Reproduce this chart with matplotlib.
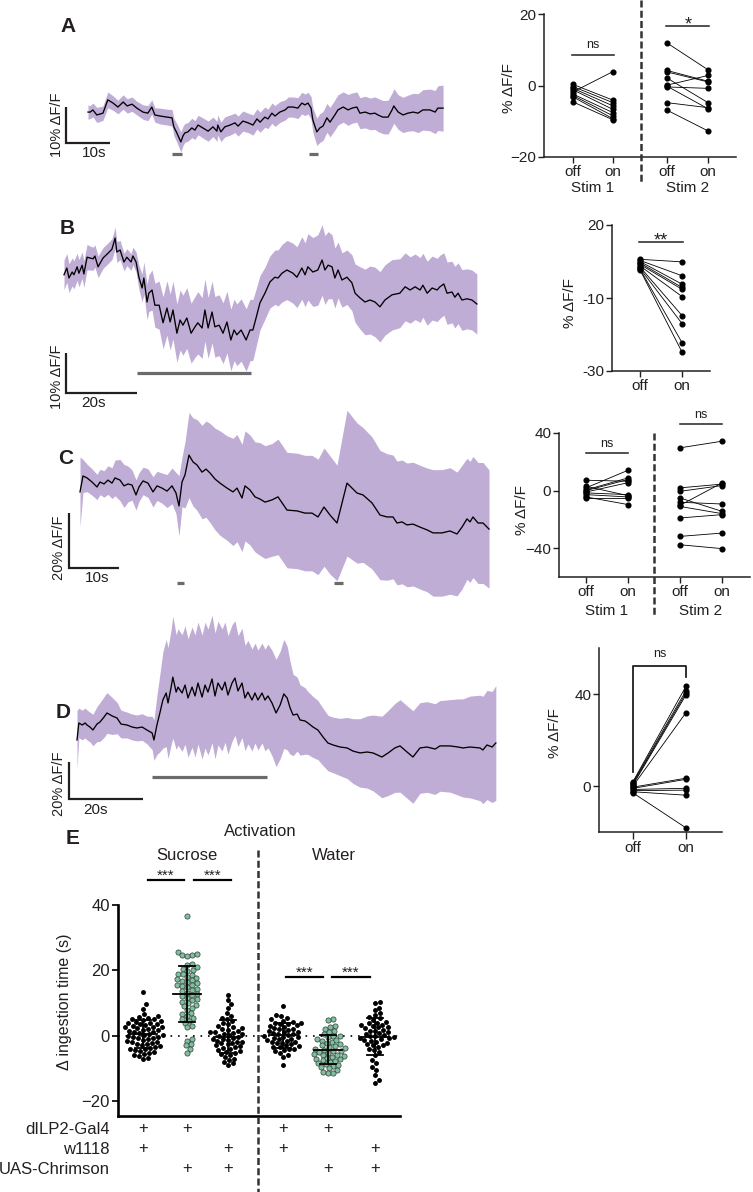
import numpy as np
import matplotlib.pyplot as plt
from matplotlib.lines import Line2D

plt.rcParams['font.family'] = ['Liberation Sans', 'DejaVu Sans']

W, H = 753, 1192
INK = '#231f20'
BAND = '#bfadd6'
STIM = '#6b6b6b'
GREEN = '#80c0a0'

# ---------------- calcium traces: time (s), mean and SEM (% dF/F) ----------------
a_t = [0.0, 0.5, 1.1, 2.0, 3.4, 4.5, 5.7, 6.8, 8.0, 8.9,
       10.0, 11.1, 12.5, 13.6, 14.5, 15.2, 16.4, 18.0, 19.1, 19.5,
       20.2, 21.1, 21.6, 22.0, 22.7, 23.6, 24.3, 25.0, 26.1, 27.3,
       28.4, 29.3, 29.5, 30.2, 31.1, 32.3, 33.4, 34.1, 35.2, 36.4,
       37.5, 38.4, 39.1, 40.2, 40.9, 41.8, 42.5, 43.6, 44.8, 45.5,
       46.6, 47.7, 48.6, 49.3, 50.0, 50.7, 51.1, 52.0, 52.7, 53.4,
       54.3, 55.0, 56.1, 56.8, 58.0, 59.1, 60.0, 61.1, 61.8, 63.0,
       64.1, 65.2, 65.9, 67.0, 68.2, 69.1, 69.5, 70.5, 71.6, 72.7,
       73.9, 75.0, 76.1, 77.7, 78.9, 79.5, 80.7]
a_mean = [2.2, 2.2, 2.8, 1.4, 1.9, 5.6, 4.7, 3.6, 5.0, 3.9,
          4.4, 3.3, 2.2, 1.9, 3.6, 1.4, 1.1, 0.8, 0.6, -1.9,
          -3.6, -6.1, -4.4, -3.6, -3.3, -2.2, -2.8, -1.4, -2.2, -3.1,
          -1.9, -3.1, -1.4, -3.3, -1.9, -1.4, -0.8, -1.7, -0.3, -0.8,
          -1.4, 0.3, -0.6, 0.8, 0.3, 1.9, 1.1, 2.2, 2.8, 3.6,
          3.6, 3.3, 4.7, 4.2, 4.7, 3.3, 0.0, -3.3, -2.2, -1.7,
          0.6, -0.6, 1.4, 2.8, 3.6, 2.8, 3.3, 3.6, 1.9, 2.2,
          1.7, 1.9, 1.4, 0.8, 0.8, 2.8, 3.9, 2.2, 1.4, 1.9,
          2.2, 1.9, 2.8, 2.8, 2.2, 3.3, 3.3]
a_sem = [2.0, 1.8, 1.9, 2.1, 2.0, 2.2, 2.0, 1.9, 2.0, 2.0,
         2.0, 1.9, 2.0, 2.1, 2.0, 2.0, 2.2, 2.2, 2.3, 2.4,
         2.6, 2.8, 2.7, 2.6, 2.6, 2.7, 2.6, 2.7, 2.8, 2.8,
         2.7, 2.8, 2.8, 2.7, 2.8, 2.8, 2.7, 2.8, 2.8, 2.7,
         2.8, 2.8, 2.8, 2.8, 2.7, 2.8, 2.9, 2.9, 2.8, 2.8,
         2.8, 2.9, 3.0, 3.0, 3.0, 3.2, 3.4, 3.8, 4.0, 4.0,
         4.0, 4.1, 4.2, 4.2, 4.2, 4.3, 4.2, 4.2, 4.3, 4.4,
         4.4, 4.5, 4.6, 4.6, 4.7, 4.7, 4.8, 4.8, 4.9, 5.0,
         5.2, 5.4, 5.6, 5.8, 6.0, 6.2, 6.4]
a_stims = [(19.1, 21.4), (50.2, 52.3)]

b_t = [0.0, 0.8, 1.4, 2.3, 2.8, 3.7, 4.2, 5.1, 5.6, 6.5,
       7.3, 8.2, 8.7, 9.6, 11.0, 12.4, 13.5, 14.4, 14.9, 15.8,
       16.9, 17.7, 18.9, 19.4, 20.3, 21.1, 22.0, 22.5, 23.4, 23.9,
       24.8, 25.6, 26.8, 27.9, 29.0, 29.9, 30.7, 31.8, 32.7, 33.5,
       34.6, 35.8, 36.9, 37.7, 38.9, 39.7, 40.6, 41.7, 42.5, 43.7,
       44.8, 45.9, 47.0, 47.9, 48.7, 49.9, 51.3, 52.4, 53.2, 54.1,
       55.2, 56.6, 58.0, 59.4, 60.3, 61.4, 62.8, 64.5, 65.6, 67.0,
       67.9, 68.7, 70.1, 71.5, 72.7, 73.5, 74.4, 75.5, 76.3, 77.2,
       78.3, 79.7, 81.1, 82.0, 83.4, 84.8, 86.2, 87.6, 89.0, 90.4,
       92.4, 94.6, 96.1, 97.5, 98.9, 100.3, 101.1, 102.3, 103.7, 105.1,
       105.9, 107.0, 107.9, 109.3, 110.1, 111.0, 112.1, 113.5, 114.9, 116.3]
b_mean = [-1.2, 0.5, -2.0, -0.5, -1.2, 0.8, -0.8, 1.2, -1.0, 3.2,
          3.0, 2.8, 3.5, 0.8, 3.0, 4.2, 5.2, 8.0, 4.5, 5.0,
          2.0, 3.2, 2.0, 3.5, 2.0, -1.8, -4.5, -2.0, -8.0, -5.8,
          -5.0, -8.8, -8.8, -13.2, -9.5, -13.0, -10.0, -15.8, -12.5, -13.8,
          -12.0, -15.8, -14.2, -13.2, -14.5, -10.0, -14.5, -10.5, -14.2, -13.8,
          -15.8, -13.0, -17.5, -15.0, -16.2, -15.0, -17.5, -15.0, -15.0, -12.0,
          -8.2, -5.8, -3.0, -1.8, -2.0, -0.8, 0.0, -0.8, -1.8, 0.5,
          -1.2, 0.8, -0.5, 0.0, 2.5, 0.0, 1.2, 0.8, -2.0, 0.0,
          -2.5, -1.8, -3.2, -5.8, -7.0, -8.0, -7.5, -8.0, -9.2, -7.5,
          -6.2, -5.8, -4.2, -5.0, -4.2, -5.0, -3.8, -5.8, -4.5, -5.0,
          -4.2, -3.5, -5.8, -5.5, -6.8, -5.8, -7.5, -7.2, -7.5, -8.5]
b_sem = [3.7, 3.6, 3.6, 3.5, 3.5, 3.4, 3.4, 3.3, 3.3, 3.2,
         3.0, 2.9, 2.8, 2.7, 2.6, 2.6, 2.6, 2.7, 2.6, 2.4,
         2.2, 2.1, 2.1, 2.2, 2.5, 3.0, 3.5, 4.0, 4.4, 4.6,
         5.0, 5.5, 6.0, 6.5, 6.8, 7.0, 7.2, 7.3, 7.5, 7.5,
         7.6, 7.5, 7.6, 7.8, 7.6, 7.8, 7.6, 7.7, 7.6, 7.6,
         7.6, 7.7, 7.7, 7.7, 7.7, 7.8, 7.8, 7.7, 7.6, 7.2,
         6.8, 6.5, 6.5, 6.8, 7.0, 7.2, 7.4, 7.5, 7.6, 7.8,
         8.0, 8.3, 8.6, 8.8, 8.8, 8.6, 8.4, 8.0, 7.5, 7.0,
         6.8, 6.8, 7.0, 7.3, 7.8, 8.2, 8.5, 8.7, 8.8, 8.8,
         8.8, 8.6, 8.5, 8.3, 8.2, 8.1, 8.0, 8.0, 8.0, 7.9,
         7.9, 7.8, 7.8, 7.7, 7.7, 7.6, 7.6, 7.5, 7.5, 7.5]
b_stims = [(20.6, 52.7)]

c_t = [0.0, 0.6, 1.4, 2.4, 3.4, 4.0, 4.8, 5.6, 6.4, 7.0,
       8.0, 8.8, 9.6, 10.4, 11.2, 11.8, 12.6, 13.6, 14.6, 15.4,
       16.4, 17.4, 18.4, 19.2, 19.8, 20.4, 21.0, 21.8, 22.6, 23.4,
       24.4, 25.2, 26.0, 27.0, 28.0, 29.4, 30.6, 31.4, 32.4, 33.0,
       34.0, 35.0, 36.0, 37.0, 38.4, 39.6, 41.4, 43.4, 45.0, 46.4,
       47.6, 48.8, 50.0, 51.4, 53.4, 55.4, 56.6, 58.4, 60.0, 61.4,
       62.6, 63.4, 64.4, 65.4, 66.6, 68.0, 69.4, 70.6, 72.4, 74.0,
       75.4, 76.4, 77.4, 78.0, 78.6, 79.6, 80.6, 81.8]
c_mean = [-0.7, 5.1, 4.4, 2.9, 1.1, 2.9, 2.2, 3.6, 2.5, 4.4,
          3.6, 1.5, 2.2, 1.8, -1.8, 1.1, 3.3, 2.5, -0.7, 1.5,
          0.7, -0.4, 1.5, -1.1, -5.8, 2.9, 5.5, 12.7, 10.2, 9.1,
          6.5, 7.6, 6.2, 4.0, 2.5, 0.7, -0.7, 0.7, -2.9, 1.5,
          0.0, -2.5, -3.3, -4.4, -3.6, -2.5, -7.3, -7.6, -8.4, -8.4,
          -9.8, -6.2, -9.1, -12.0, 2.5, -1.1, -1.8, -4.7, -9.1, -9.8,
          -9.8, -12.0, -11.6, -12.7, -12.4, -13.5, -14.5, -15.6, -15.6, -14.9,
          -16.0, -13.5, -10.5, -11.6, -9.8, -12.0, -12.0, -14.2]
c_sem = [12.7, 6.0, 5.0, 4.8, 4.6, 4.6, 4.8, 5.2, 5.6, 6.5,
         7.5, 7.8, 6.5, 5.5, 5.5, 5.2, 5.0, 5.2, 5.5, 5.3,
         5.5, 6.0, 6.5, 7.5, 11.0, 9.0, 12.0, 15.5, 16.0, 16.5,
         17.0, 17.5, 18.0, 18.5, 19.0, 19.0, 19.5, 19.5, 19.5, 20.0,
         20.0, 20.0, 20.5, 20.5, 20.5, 21.0, 21.0, 21.0, 21.0, 21.0,
         21.0, 21.5, 21.5, 21.0, 26.5, 25.5, 24.5, 24.0, 23.5, 23.0,
         22.5, 22.5, 22.5, 22.5, 22.5, 22.5, 22.5, 23.0, 23.0, 23.0,
         22.5, 22.5, 22.0, 22.0, 22.0, 22.0, 22.0, 21.5]
c_stims = [(19.4, 20.8), (50.8, 52.6)]

d_t = [0.0, 0.5, 1.4, 2.2, 2.7, 3.5, 4.3, 5.4, 6.2, 7.3,
       8.1, 9.5, 10.8, 11.9, 13.5, 14.9, 16.2, 17.6, 18.9, 20.3,
       20.8, 21.6, 22.4, 23.2, 24.1, 24.6, 25.4, 25.9, 26.8, 27.3,
       28.4, 29.2, 30.0, 31.1, 31.9, 32.7, 33.8, 34.6, 35.4, 36.5,
       37.3, 38.1, 39.2, 40.0, 40.8, 41.9, 42.7, 43.5, 44.6, 45.4,
       46.2, 47.3, 48.1, 48.9, 50.0, 50.8, 51.6, 52.7, 53.8, 54.9,
       55.9, 56.8, 57.6, 58.4, 59.5, 60.3, 61.6, 62.4, 63.8, 65.1,
       66.5, 67.8, 69.2, 71.1, 73.0, 74.6, 76.5, 78.4, 80.0, 82.4,
       84.1, 85.9, 87.3, 89.2, 90.8, 92.7, 94.6, 96.8, 98.1, 100.8,
       103.0, 104.3, 106.2, 108.9, 109.7, 110.8, 112.2, 113.2]
d_mean = [-5.4, 3.8, 2.7, 3.8, 2.7, 1.6, 0.0, 3.2, 4.3, 7.0,
          9.2, 7.6, 6.5, 3.2, 2.7, 1.6, 1.1, 1.6, 0.0, -1.6,
          -5.4, 2.7, 9.2, 16.2, 20.0, 14.6, 22.7, 28.6, 20.5, 23.2,
          20.0, 24.3, 17.3, 23.2, 18.4, 25.4, 17.8, 24.3, 20.5, 27.6,
          18.4, 25.4, 21.6, 25.9, 18.9, 25.4, 28.1, 21.1, 25.4, 17.3,
          20.5, 16.2, 20.0, 16.2, 20.0, 16.2, 18.4, 14.6, 9.2, 13.5,
          19.5, 17.3, 11.9, 8.1, 8.6, 5.4, 4.9, 3.8, 1.6, 0.0,
          -3.8, -7.0, -8.1, -9.2, -9.7, -11.4, -12.4, -11.9, -12.4, -14.6,
          -12.4, -9.7, -8.6, -11.9, -14.6, -9.7, -9.2, -10.3, -8.6, -8.6,
          -9.2, -9.7, -9.2, -9.7, -10.8, -8.1, -9.2, -7.0]
d_sem = [16.0, 8.0, 8.0, 8.1, 8.1, 8.0, 8.5, 9.5, 10.5, 11.0,
         11.0, 10.0, 8.5, 7.5, 7.0, 7.0, 7.0, 7.2, 7.5, 9.0,
         11.0, 16.0, 21.0, 26.0, 29.0, 30.0, 31.0, 33.0, 31.0, 31.5,
         31.5, 32.0, 32.0, 32.5, 33.0, 33.0, 33.5, 34.0, 34.0, 34.5,
         34.0, 33.5, 33.0, 32.5, 32.0, 31.5, 31.0, 30.0, 29.5, 28.5,
         28.0, 27.5, 27.0, 27.0, 27.0, 27.5, 28.0, 28.5, 29.0, 29.0,
         29.5, 28.0, 25.0, 22.0, 20.0, 19.0, 18.0, 17.0, 16.5, 16.0,
         15.5, 15.0, 15.0, 15.5, 16.5, 17.5, 18.5, 19.5, 20.5, 22.0,
         23.0, 24.0, 25.0, 25.0, 25.0, 24.5, 24.5, 24.5, 24.5, 25.0,
         26.0, 26.5, 27.5, 28.5, 29.0, 29.5, 30.0, 31.0]
d_stims = [(20.3, 51.4)]

# ---------------- paired off/on responses (% dF/F) ----------------
a1_off = [0.3, -0.3, -0.8, -1.2, -1.8, -2.4, -2.8, -3.2, -4.6]
a1_on = [-4.1, -4.8, -5.7, -6.7, 3.9, -7.6, -8.5, -9.3, -9.6]
a2_off = [11.9, 4.2, 3.8, 2.1, 0.1, -0.4, -0.2, -4.8, -6.9]
a2_on = [4.4, 1.2, 1.0, -4.8, 2.8, -0.8, -6.5, -6.2, -12.7]
b_off = [0.6, 0.3, 0.0, -0.4, -0.8, -1.2, -1.5, -1.9, -2.1, -2.3]
b_on = [-0.1, -3.9, -6.2, -7.1, -7.6, -9.6, -14.8, -17.0, -22.2, -24.8]
c1_off = [7.2, 3.0, 1.9, 0.5, 0.0, -1.6, -2.8, -4.4, -5.3, -1.0]
c1_on = [6.5, -3.5, 14.1, 8.8, 7.7, -2.8, -4.4, -9.7, -5.3, 5.5]
c2_off = [29.7, 1.9, -0.5, -5.1, -8.1, -10.2, -19.0, -31.8, -37.6, -11.0]
c2_on = [34.3, 4.5, 3.5, -14.4, -9.3, 5.3, -16.7, -29.5, -40.3, -16.0]
d_off = [1.9, 1.5, 1.0, 0.5, 0.0, -0.5, -1.0, -1.5, -2.0, -2.5, -3.0]
d_on = [43.4, 41.5, 40.5, 39.6, 31.9, 3.4, 2.9, -1.0, -1.8, -4.0, -18.2]

# ---------------- panel E: delta ingestion time (s) ----------------
e_suc_gal4 = [13.4, 9.6, 8.3, 6.5, 6.0, 5.8, 5.5, 5.2, 4.8, 4.5, 4.2, 4.0, 3.8, 3.5, 3.2,
              3.0, 2.8, 2.5, 2.2, 2.0, 1.8, 1.5, 1.2, 1.0, 0.8, 0.5, 0.2, 0.0, -0.3, -0.5,
              -0.8, -1.0, -1.3, -1.5, -1.8, -2.0, -2.3, -2.6, -2.9, -3.2, -3.5, -3.8, -4.0,
              -4.3, -4.6, -5.0, -5.3, -5.6, -6.0, -6.3, -6.8, -7.3, 3.6, 1.6, -0.6, 5.0,
              -2.5, 0.3, 2.6, -4.1]
e_suc_chr = [36.6, 25.6, 24.8, 24.6, 24.5, 24.9, 22.0, 21.5, 21.0, 20.5, 20.0, 19.8, 19.0,
             18.8, 18.5, 18.0, 17.6, 17.2, 17.0, 16.8, 16.4, 16.0, 15.6, 15.5, 15.2, 14.8,
             14.4, 14.0, 13.6, 13.2, 12.8, 12.4, 12.0, 11.6, 11.2, 10.8, 10.4, 10.0, 9.5,
             9.0, 8.5, 7.8, 7.0, 6.5, 6.0, 5.5, 5.0, 4.5, 3.8, 3.0, 2.5, -1.0, -1.5, -2.5,
             -3.0, -4.0, -5.2]
e_suc_uas = [12.5, 11.0, 9.8, 8.5, 7.0, 6.0, 5.5, 4.5, 4.0, 3.5, 3.0, 2.6, 2.2, 1.8, 1.5,
             1.2, 0.9, 0.6, 0.3, 0.0, -0.3, -0.6, -0.9, -1.2, -1.5, -1.8, -2.1, -2.4, -2.7,
             -3.0, -3.3, -3.6, -4.0, -4.4, -4.8, -5.2, -5.6, -6.0, -6.5, -7.0, -7.5, -8.0,
             -8.5, -9.0, 2.0, 0.4, -1.0, -2.0, 1.0, -3.8, 5.0, -5.0]
e_wat_gal4 = [9.0, 6.2, 6.0, 5.5, 5.0, 4.6, 4.2, 3.8, 3.5, 3.2, 3.0, 2.7, 2.4, 2.1, 1.8,
              1.5, 1.2, 0.9, 0.6, 0.3, 0.0, -0.3, -0.6, -0.9, -1.2, -1.5, -1.8, -2.1, -2.4,
              -2.7, -3.0, -3.3, -3.6, -4.0, -4.4, -4.8, -5.3, -5.8, -6.5, -9.0, 1.0, -1.0,
              2.0, -2.0, 0.5, -0.5, 3.6, -3.5, 4.0, -4.2]
e_wat_chr = [5.0, 4.8, 3.0, 2.5, 2.0, 1.5, 1.0, 0.5, 0.0, -0.5, -1.0, -1.5, -2.0, -2.5,
             -3.0, -3.3, -3.6, -4.0, -4.3, -4.6, -5.0, -5.3, -5.6, -6.0, -6.3, -6.6, -7.0,
             -7.3, -7.6, -8.0, -8.4, -8.8, -9.2, -9.6, -10.0, -10.5, -11.0, -11.5, -11.5,
             -2.2, -3.8, -4.8, -6.8, -0.2, -1.2, -5.8, -7.8, -9.0]
e_wat_uas = [10.2, 10.0, 8.5, 7.8, 7.0, 6.3, 5.8, 5.3, 4.8, 4.3, 3.8, 3.4, 3.0, 2.6, 2.2,
             1.8, 1.4, 1.0, 0.6, 0.2, -0.2, -0.6, -1.0, -1.4, -1.8, -2.2, -2.6, -3.0, -3.5,
             -4.0, -4.5, -5.0, -6.0, -7.5, -8.5, -9.5, -10.5, -12.0, -13.5, -14.5, 0.0, 1.5,
             -1.5, 2.5, -0.8, 4.0, 0.8, -2.8, 3.2, -0.4]
e_groups = [e_suc_gal4, e_suc_chr, e_suc_uas, e_wat_gal4, e_wat_chr, e_wat_uas]
e_is_chrimson = [False, True, False, False, True, False]
geno_rows = ['dILP2-Gal4', 'w1118', 'UAS-Chrimson']
geno_marks = [[1, 1, 0, 1, 1, 0],
              [1, 0, 1, 1, 0, 1],
              [0, 1, 1, 0, 1, 1]]

fig = plt.figure(figsize=(W / 100, H / 100), dpi=100)
fig.patch.set_facecolor('white')


def px_axes(left, top, right, bottom):
    ax = fig.add_axes([left / W, 1 - bottom / H, (right - left) / W, (bottom - top) / H])
    ax.patch.set_alpha(0)
    return ax


def ftext(x, y, s, **kw):
    kw.setdefault('color', INK)
    kw.setdefault('ha', 'center')
    kw.setdefault('va', 'center')
    fig.text(x / W, 1 - y / H, s, **kw)


def fline(xs, ys, **kw):
    kw.setdefault('color', INK)
    fig.add_artist(Line2D([x / W for x in xs], [1 - y / H for y in ys], **kw))


def trace(box, x0, y0, kx, ky, t, mean, sem, stims, stim_y, corner, bar):
    ax = px_axes(*box)
    left, top, right, bottom = box
    ax.set_xlim((left - x0) / kx, (right - x0) / kx)
    ax.set_ylim((y0 - bottom) / ky, (y0 - top) / ky)
    ax.axis('off')
    t, mean, sem = np.array(t), np.array(mean), np.array(sem)
    ax.fill_between(t, mean - sem, mean + sem, color=BAND, lw=0)
    ax.plot(t, mean, color='black', lw=0.95)
    sv = (y0 - stim_y) / ky
    for a, b in stims:
        ax.plot([a, b], [sv, sv], color=STIM, lw=2.3, solid_capstyle='butt')
    bx, by = (corner[0] - x0) / kx, (y0 - corner[1]) / ky
    ax.plot([bx, bx, bx + bar[0]], [by + bar[1], by, by], color=INK, lw=1.6,
            solid_joinstyle='miter', solid_capstyle='butt', clip_on=False)
    return ax


def paired_axes(box, ylim, xpos, xlabels, yticks, ylabels=None):
    ax = px_axes(*box)
    ax.set_xlim(box[0], box[2])
    ax.set_ylim(*ylim)
    for s in ('top', 'right'):
        ax.spines[s].set_visible(False)
    for s in ('left', 'bottom'):
        ax.spines[s].set_linewidth(1.1)
        ax.spines[s].set_color(INK)
    ax.set_xticks(xpos, xlabels)
    ax.set_yticks(yticks, ylabels)
    ax.tick_params(length=4, width=1.0, colors=INK, labelsize=11, pad=1.5)
    return ax


def pairs(ax, x0, x1, off, on):
    for a, b in zip(off, on):
        ax.plot([x0, x1], [a, b], color='black', lw=0.6, marker='o', ms=3.4, clip_on=False)


def swarm(vals, ky, d=4.9):
    ys = np.asarray(vals) * ky
    xs = np.zeros(len(ys))
    steps = [0.0]
    for k in range(1, 60):
        steps += [k * 0.5, -k * 0.5]
    done = []
    for i in np.argsort(ys):
        for c in steps:
            if all((c - xs[j]) ** 2 + (ys[i] - ys[j]) ** 2 >= d * d for j in done):
                break
        xs[i] = c
        done.append(i)
    return xs


# ---- traces A-D ----
trace((40, 60, 470, 175), 88, 120, 4.4, 3.6, a_t, a_mean, a_sem, a_stims, 154, (66, 143), (10, 10))
trace((40, 200, 490, 420), 64, 270, 3.55, 4.0, b_t, b_mean, b_sem, b_stims, 373, (66, 393), (20, 10))
trace((40, 400, 500, 600), 80, 490, 5.0, 2.75, c_t, c_mean, c_sem, c_stims, 583, (69, 568), (10, 20))
trace((40, 590, 510, 830), 77, 730, 3.7, 1.85, d_t, d_mean, d_sem, d_stims, 777, (69, 799), (20, 20))

for lab, x, y in [('A', 68, 27), ('B', 67, 228), ('C', 66, 458), ('D', 63, 712), ('E', 73, 838)]:
    ftext(x, y, lab, fontsize=15, fontweight='bold')

for txt, x, y in [('10s', 94, 153), ('20s', 94, 403), ('10s', 97, 578), ('20s', 96, 810)]:
    ftext(x, y, txt, fontsize=11)
for txt, x, y in [('10% ΔF/F', 57, 125), ('10% ΔF/F', 57, 377), ('20% ΔF/F', 59, 548),
                  ('20% ΔF/F', 59, 784)]:
    ftext(x, y, txt, fontsize=10.5, rotation=90)

# ---- paired panels ----
ax = paired_axes((544, 14, 736, 157), (-20, 20), [573, 613, 667, 708],
                 ['off', 'on', 'off', 'on'], [-20, 0, 20])
pairs(ax, 573, 613, a1_off, a1_on)
pairs(ax, 667, 708, a2_off, a2_on)
ftext(509, 88, '% ΔF/F', fontsize=11, rotation=90)
ftext(593, 188, 'Stim 1', fontsize=11)
ftext(688, 188, 'Stim 2', fontsize=11)
fline([572, 614], [55, 55], lw=1.1)
ftext(593, 48, 'ns', fontsize=9, va='baseline')
fline([666, 709], [26, 26], lw=1.1)
ftext(688, 29, '*', fontsize=13, va='baseline')
fline([641, 641], [0, 182], lw=1.8, ls=(0, (2.8, 1.3)), color='#333333')

ax = paired_axes((612, 225, 710, 371), (-30, 10), [640, 682], ['off', 'on'],
                 [10, -10, -30], ['20', '-10', '-30'])
pairs(ax, 640, 682, b_off, b_on)
ftext(570, 303, '% ΔF/F', fontsize=11, rotation=90)
fline([639, 683], [242, 242], lw=1.1)
ftext(661, 245, '**', fontsize=13, va='baseline')

ax = paired_axes((559, 433, 750, 577), (-60, 40), [586, 628, 680, 722],
                 ['off', 'on', 'off', 'on'], [-40, 0, 40])
pairs(ax, 586, 628, c1_off, c1_on)
pairs(ax, 680, 722, c2_off, c2_on)
ftext(522, 510, '% ΔF/F', fontsize=11, rotation=90)
ftext(607, 611, 'Stim 1', fontsize=11)
ftext(701, 611, 'Stim 2', fontsize=11)
fline([586, 628], [453, 453], lw=1.1)
ftext(607, 447, 'ns', fontsize=9, va='baseline')
fline([680, 722], [424, 424], lw=1.1)
ftext(701, 418, 'ns', fontsize=9, va='baseline')
fline([654, 654], [433, 617], lw=1.8, ls=(0, (2.8, 1.3)), color='#333333')

ax = paired_axes((599, 648, 722, 832), (-20, 60), [633, 686], ['off', 'on'], [0, 40])
ax.tick_params(axis='x', length=5)
pairs(ax, 633, 686, d_off, d_on)
ftext(555, 733, '% ΔF/F', fontsize=11, rotation=90)
fline([633, 633, 686, 686], [772, 666, 666, 677], lw=1.3)
ftext(660, 657, 'ns', fontsize=9, va='baseline')

# ---- panel E ----
e_pos = [143, 187, 228, 283, 328, 375]
ky_e = 211 / 64.6
ax = px_axes(118, 905, 400, 1116)
ax.set_xlim(118, 400)
ax.set_ylim(-24.6, 40)
for s in ('top', 'right'):
    ax.spines[s].set_visible(False)
for s in ('left', 'bottom'):
    ax.spines[s].set_linewidth(1.9)
    ax.spines[s].set_color('black')
ax.set_xticks([])
ax.set_yticks([-20, 0, 20, 40])
ax.tick_params(axis='y', length=4.5, width=1.4, colors=INK, labelsize=12, pad=1.5)
ax.axhline(0, color='black', lw=1.2, ls=(0, (1, 3.5)), zorder=1)
for p, vals, chr_ in zip(e_pos, e_groups, e_is_chrimson):
    vals = np.array(vals)
    xs = swarm(vals, ky_e)
    if chr_:
        ax.scatter(p + xs, vals, s=14, color=GREEN, edgecolors='#2e3b34', linewidths=0.5,
                   zorder=3, clip_on=False)
    else:
        ax.scatter(p + xs, vals, s=12.5, color='black', lw=0, zorder=3, clip_on=False)
    m, sd = vals.mean(), vals.std(ddof=1)
    ax.plot([p - 14, p + 14], [m, m], color='black', lw=1.3, zorder=4)
    ax.plot([p, p], [m - sd, m + sd], color='black', lw=1.3, zorder=4)
    for y in (m - sd, m + sd):
        ax.plot([p - 8, p + 8], [y, y], color='black', lw=1.3, zorder=4)

ftext(65, 1002, 'Δ ingestion time (s)', fontsize=11.5, rotation=90)
ftext(260, 832, 'Activation', fontsize=12)
ftext(187, 855, 'Sucrose', fontsize=12)
ftext(334, 855, 'Water', fontsize=12)
for x0, x1, y in [(148, 184, 880), (194, 231, 880), (286, 323, 977), (332, 370, 977)]:
    fline([x0, x1], [y, y], lw=1.6, color='black')
    ftext((x0 + x1) / 2, y, '***', fontsize=11, va='baseline')
fline([258, 258], [850, 1192], lw=1.8, ls=(0, (2.8, 1.3)), color='#333333')

for row, (name, marks) in enumerate(zip(geno_rows, geno_marks)):
    y = 1130 + 20 * row
    ftext(110, y, name, fontsize=12, ha='right')
    for p, mk in zip(e_pos, marks):
        if mk:
            ftext(p, y - 1, '+', fontsize=12)

fig.savefig('out.png', dpi=100, facecolor='white')
